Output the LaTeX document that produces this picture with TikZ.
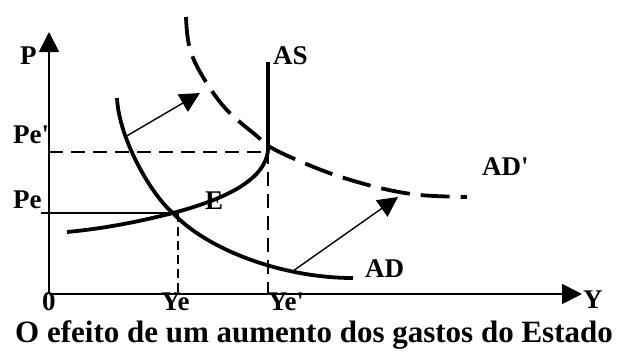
\documentclass[tikz,border=0pt]{standalone}
\usepackage{fontspec}
\setmainfont{Liberation Serif}[Ligatures=TeXOff]
\usetikzlibrary{arrows.meta}

\begin{document}
\begin{tikzpicture}[
  x=1pt, y=-1pt,
  font=\fontsize{27}{30}\selectfont\bfseries,
  lbl/.style={anchor=base west, inner sep=0pt},
  axis/.style={line width=1.8pt, -{Triangle[length=20pt,width=20pt]}},
  curve/.style={line width=3.8pt},
  guide/.style={line width=1.4pt, dash pattern=on 14pt off 8pt},
  shiftarr/.style={line width=1.4pt, -{Triangle[length=20pt,width=20pt]}}
]
  \useasboundingbox (0,0) rectangle (632,351);

  % points
  \coordinate (O) at (49,294);
  \coordinate (Ptop) at (49,32);
  \coordinate (Yend) at (582,294);
  \coordinate (E) at (173,213);
  \coordinate (K) at (268,150);
  \coordinate (Petick) at (41,213);
  \coordinate (Pe2) at (49,152);
  \coordinate (Ye) at (178,294);
  \coordinate (Ye2) at (268,294);

  % axes
  \draw[axis] (O) -- (Ptop);
  \draw[axis] (O) -- (Yend);

  % guide lines
  \draw[line width=1.4pt] (Petick) -- (E);
  \draw[guide] (Pe2) -- (Pe2 -| K);
  \draw[guide] (K) -- (Ye2);
  \draw[line width=1.4pt, dash pattern=on 9pt off 5pt] (Ye |- E) -- (Ye);

  % AS
  \draw[curve] (67,232) .. controls (110,228) and (145,220) .. (E)
    .. controls (210,203) and (265,185) .. (K) -- (268,62);

  % AD
  \draw[curve] (117,98) .. controls (119,140) and (153,197) .. (E)
    .. controls (205,248) and (280,278) .. (353,278);

  % AD'
  \draw[curve, dash pattern=on 29pt off 11pt] plot[smooth, tension=0.6] coordinates
    {(186,17) (189,45) (200,72) (225,108) (258,137) (270,147) (297,160) (335,175) (380,188) (420,195) (467,197)};

  % shifts
  \coordinate (s1) at (125,137);
  \coordinate (t1) at (200,93);
  \coordinate (s2) at (293,271);
  \coordinate (t2) at (398,197);
  \draw[shiftarr] (s1) -- (t1);
  \draw[shiftarr] (s2) -- (t2);

  % labels
  \node[lbl] (lP) at (20,64) {P};
  \node[lbl] (lAS) at (273,64) {AS};
  \node[lbl] (lPe2) at (13,143) {Pe'};
  \node[lbl] (lPe) at (13,208) {Pe};
  \node[lbl] (lE) at (205,209) {E};
  \node[lbl] (lADp) at (482,175) {AD'};
  \node[lbl] (lAD) at (365,277) {AD};
  \node[lbl] (l0) at (42,310) {0};
  \node[lbl] (lYe) at (161,310) {Ye};
  \node[lbl] (lYe2) at (268,310) {Ye'};
  \node[lbl] (lY) at (583,308) {Y};
  \node[lbl, font=\fontsize{31}{34}\selectfont\bfseries] (cap) at (15,342)
    {O efeito de um aumento dos gastos do Estado};
\end{tikzpicture}
\end{document}
